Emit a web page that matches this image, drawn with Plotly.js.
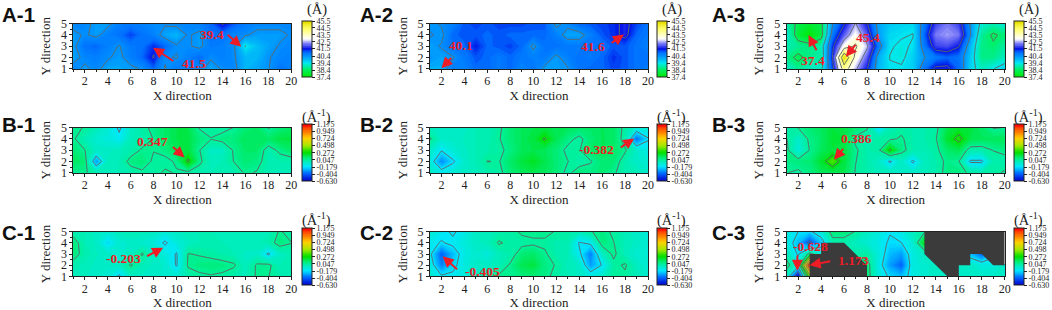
<!DOCTYPE html>
<html><head><meta charset="utf-8">
<script src="https://cdn.plot.ly/plotly-3.0.1.min.js"></script>
<style>html,body{margin:0;padding:0;background:#fff}#c{width:1052px;height:310px}</style>
</head><body><div id="c"></div>
<script>
const xValues=[1,2,3,4,5,6,7,8,9,10,11,12,13,14,15,16,17,18,19,20];
const yValues=[1,2,3,4,5];
const panelNames=["A-1","A-2","A-3","B-1","B-2","B-3","C-1","C-2","C-3"];
const ticksA=["37.4","38.4","39.4","40.4","41.5","42.5","43.5","44.5","45.5"];
const ticksB=["-0.630","-0.404","-0.179","0.047","0.272","0.498","0.724","0.949","1.175"];
// rows run from y=1 to y=5
const zA1=[
[40.7,40.3,40.6,40.2,40.2,40.3,40.5,41.0,40.4,40.8,40.7,40.6,40.2,40.5,40.6,40.0,40.2,40.4,40.9,40.7],
[40.2,40.6,40.7,40.5,40.3,40.7,41.0,41.5,40.5,40.4,40.7,41.0,40.5,40.7,40.5,40.0,40.0,40.4,40.6,40.7],
[40.3,40.9,41.0,40.7,40.4,40.8,40.9,41.3,41.0,40.5,40.5,40.3,40.8,40.7,40.5,39.4,39.9,40.2,40.5,40.6],
[40.3,40.5,40.3,40.7,40.9,41.2,40.9,40.7,40.2,40.0,40.5,40.3,40.9,40.9,40.6,40.5,40.3,40.3,40.3,40.5],
[40.6,40.6,40.3,40.3,40.7,40.8,40.7,40.5,40.5,40.6,40.6,40.7,41.0,41.5,41.1,40.8,40.6,40.6,40.6,40.6]];
const zA2=[
[40.1,40.1,40.8,40.7,41.0,41.0,40.8,41.0,40.6,40.9,40.3,40.3,40.4,40.9,41.0,41.0,41.2,41.1,40.9,40.8],
[40.4,40.2,40.4,40.8,41.1,41.0,40.8,41.0,40.8,40.7,40.8,40.3,40.7,40.9,40.8,41.0,41.3,41.1,40.9,40.9],
[40.2,40.5,40.9,41.0,41.4,41.0,41.1,41.2,41.0,40.3,40.9,40.9,40.8,40.8,40.9,40.9,41.1,41.1,40.9,40.7],
[40.5,40.3,41.0,41.1,41.1,41.0,41.1,41.0,41.0,41.0,41.0,40.7,40.2,40.2,40.7,41.1,41.3,41.6,41.0,40.8],
[40.3,40.5,40.7,41.1,41.2,41.1,41.2,41.2,41.2,41.1,41.1,40.3,40.6,41.0,41.1,41.2,41.3,41.6,41.2,40.9]];
const zA3=[
[39.2,38.8,39.1,39.2,41.2,44.0,42.6,41.5,40.0,39.5,39.5,39.7,40.9,41.6,41.6,41.0,39.7,39.1,39.4,39.7],
[38.7,38.2,38.7,38.9,41.5,45.4,43.2,42.0,40.1,39.4,39.3,39.7,40.4,40.8,41.0,40.9,39.8,38.7,38.7,39.1],
[39.0,38.8,38.7,39.0,41.3,43.0,43.6,42.6,40.8,39.5,39.3,39.5,40.8,41.8,41.9,41.5,40.0,38.7,38.5,38.9],
[39.3,38.0,37.5,38.1,40.8,42.0,43.0,42.0,40.3,39.6,39.5,39.4,41.0,42.2,42.4,42.2,40.5,38.8,38.3,38.6],
[39.0,38.2,37.9,38.2,40.4,41.4,42.5,41.5,40.2,39.8,39.7,39.6,40.8,41.8,42.2,41.8,40.4,39.2,39.0,39.3]];
const zB1=[
[0.05,0.06,0.0,-0.03,-0.02,0.0,0.03,0.02,0.06,0.04,0.02,0.0,-0.02,-0.02,-0.01,0.06,0.04,-0.02,-0.03,-0.02],
[0.14,0.1,-0.3,-0.04,-0.02,0.08,0.1,0.03,0.02,0.06,0.3,0.07,-0.03,-0.02,0.05,0.1,0.08,0.0,0.0,0.0],
[0.1,0.05,-0.05,-0.05,-0.03,0.0,0.06,0.05,0.08,0.14,0.18,0.05,-0.05,-0.05,0.06,0.12,0.12,0.0,0.07,0.12],
[0.06,-0.02,-0.08,-0.1,-0.15,-0.03,0.0,0.05,0.12,0.16,0.17,0.09,0.05,0.08,0.09,0.14,0.12,0.12,0.17,0.17],
[0.07,0.04,-0.02,-0.08,-0.2,-0.05,0.02,0.07,0.12,0.16,0.16,0.04,0.02,0.02,0.05,0.1,0.12,0.04,0.09,0.12]];
const zB2=[
[-0.05,-0.12,-0.08,-0.06,-0.03,0.0,0.02,0.1,0.14,0.16,0.14,0.1,0.02,0.1,0.08,0.1,0.06,0.0,-0.02,-0.06],
[-0.1,-0.33,-0.2,-0.06,-0.02,0.05,0.04,0.12,0.18,0.22,0.16,0.1,0.05,0.0,0.04,0.1,0.1,0.0,-0.06,-0.08],
[-0.05,-0.17,-0.08,-0.05,-0.02,0.0,0.02,0.08,0.14,0.16,0.14,0.1,0.02,0.04,0.12,0.14,0.12,0.06,-0.06,-0.12],
[0.06,-0.06,-0.06,-0.04,-0.02,-0.01,0.04,0.1,0.14,0.18,0.29,0.15,0.08,0.02,0.1,0.14,0.13,0.0,-0.38,-0.19],
[-0.03,-0.06,-0.06,-0.05,-0.02,-0.02,0.03,0.1,0.14,0.16,0.17,0.15,0.14,0.12,0.12,0.14,0.12,0.02,-0.08,-0.08]];
const zB3=[
[0.05,0.03,0.08,0.14,0.14,0.16,0.04,0.0,-0.03,-0.02,-0.05,-0.06,-0.03,0.0,0.08,0.08,0.03,0.0,0.02,0.06],
[0.07,0.09,0.1,0.2,0.39,0.18,0.05,0.0,-0.05,-0.2,-0.05,-0.2,-0.04,0.0,0.07,0.05,-0.2,-0.2,0.0,0.0],
[0.07,-0.1,0.05,0.14,0.18,0.18,0.06,0.0,0.02,0.29,0.08,0.0,-0.02,0.02,0.12,0.15,0.0,0.0,0.05,0.08],
[0.05,-0.06,0.07,0.12,0.2,0.18,0.03,-0.02,0.02,0.03,0.06,0.0,0.0,0.04,0.2,0.32,0.16,0.14,0.14,0.14],
[-0.02,0.05,0.1,0.14,0.18,0.16,0.1,0.06,-0.18,-0.02,0.02,0.0,0.0,0.02,0.16,0.2,0.18,0.12,0.04,0.05]];
const zC1=[
[-0.03,-0.04,-0.06,-0.08,-0.2,-0.05,-0.05,-0.06,-0.07,-0.08,0.0,0.03,0.04,0.03,0.0,-0.03,0.06,0.05,0.0,-0.02],
[0.0,-0.03,-0.05,-0.06,-0.05,0.06,-0.02,-0.05,-0.07,-0.19,0.06,0.08,0.09,0.08,0.06,-0.04,0.06,0.07,-0.02,-0.02],
[0.1,0.0,-0.04,-0.06,-0.08,-0.05,0.06,-0.05,-0.1,-0.19,0.05,0.04,0.02,0.0,-0.02,-0.05,-0.05,-0.2,-0.05,-0.01],
[0.1,-0.02,-0.05,-0.18,-0.08,-0.06,-0.07,-0.1,-0.2,-0.1,-0.05,-0.02,-0.02,-0.02,-0.03,-0.03,-0.03,0.0,0.09,0.05],
[0.0,-0.02,-0.05,-0.08,-0.03,-0.02,-0.03,-0.05,-0.08,-0.05,-0.03,-0.02,-0.02,-0.03,-0.03,-0.03,-0.04,-0.03,0.06,0.0]];
const zC2=[
[-0.08,-0.16,-0.15,-0.1,-0.06,0.0,0.06,0.05,0.09,0.1,0.08,0.01,-0.02,-0.05,-0.1,-0.07,0.04,0.03,-0.03,-0.07],
[-0.1,-0.35,-0.22,-0.1,-0.06,-0.05,-0.02,0.06,0.15,0.18,0.08,0.04,-0.03,-0.05,-0.3,-0.17,0.02,0.06,-0.04,-0.08],
[-0.15,-0.405,-0.25,-0.12,-0.07,-0.1,-0.03,0.0,0.1,0.12,0.06,0.0,-0.02,-0.15,-0.35,-0.05,0.07,-0.03,-0.08,-0.09],
[-0.14,-0.19,-0.15,-0.1,-0.05,-0.03,0.06,0.02,0.02,0.03,0.03,-0.01,0.0,-0.19,-0.15,0.09,0.05,-0.03,-0.05,-0.09],
[-0.08,-0.14,-0.2,-0.12,-0.05,-0.03,-0.01,0.02,0.06,0.07,0.07,0.04,0.01,-0.02,0.04,0.08,0.03,-0.02,-0.06,-0.1]];
const zC3=[
[-0.05,-0.628,0.4,null,null,null,null,0.1,-0.1,-0.2,-0.25,-0.12,-0.07,-0.05,-0.05,-0.05,-0.05,-0.06,-0.06,-0.05],
[0.1,-0.1,1.173,null,null,null,null,0.1,-0.12,-0.3,-0.4,-0.1,-0.08,-0.05,null,-0.05,-0.05,-0.1,-0.1,-0.05],
[-0.02,-0.2,0.1,-0.08,null,null,0.0,0.02,-0.1,-0.25,-0.3,-0.1,-0.05,null,null,null,-0.25,-0.4,null,null],
[-0.1,-0.25,-0.45,-0.25,0.0,0.0,-0.04,-0.08,-0.12,-0.2,-0.18,-0.08,0.25,null,null,null,null,null,null,null],
[-0.1,-0.18,-0.2,-0.1,0.1,0.1,0.04,-0.05,-0.1,-0.17,-0.12,-0.04,0.03,null,null,null,null,null,null,null]];
const panelData=[zA1,zA2,zA3,zB1,zB2,zB3,zC1,zC2,zC3];
// grey blanked areas in C-3
const maskX=[3,3,4,4,6,8,8,3,null,13,13,15,16,16,17,17,18,19,20,20,13];
const maskY=[1,3,3,4,4,2,1,1,null,5,3,1,1,2,2,3,3,2,2,5,5];
// callouts per panel: [text, textX, textY, tailX, tailY, headX, headY]
const callouts=[
[["41.5",11.5,1.47,9.85,1.6,7.95,2.87],["39.4",13.1,4.05,14.33,4.14,15.64,2.95]],
[["40.1",3.67,3.05,2.98,2.1,2.0,1.05],["41.6",15.2,3.0,16.7,3.2,17.9,4.05]],
[["37.4",3.27,1.77,3.67,2.5,2.9,4.0],["45.4",8.1,3.8,7.1,3.25,6.15,2.07]],
[["0.347",7.9,3.76,9.55,3.4,10.7,2.36]],
[["-0.382",15.5,3.04,17.5,3.16,18.8,4.05]],
[["0.386",7.04,4.08,6.03,3.25,5.13,2.16]],
[["-0.203",5.4,2.6,7.3,2.73,8.83,3.57]],
[["-0.405",5.56,1.42,3.5,1.5,2.1,2.8]],
[["-0.628",3.1,3.66,1.93,3,1.93,1.5],["1.173",6.8,2.46,4.93,2.37,3.0,2.0]]];

const W=1052,H=310;
const colA=[[0,"#00e800"],[0.125,"#00f060"],[0.25,"#00e8f0"],[0.375,"#0090ff"],[0.44,"#0070ff"],[0.5,"#0010e8"],[0.6,"#8080f8"],[0.68,"#ffffff"],[0.85,"#ffff70"],[1,"#e8e000"]];
const colB=[[0,"#0000c8"],[0.125,"#0060ff"],[0.25,"#00e8ff"],[0.375,"#00f098"],[0.5,"#00e000"],[0.625,"#a8e800"],[0.75,"#ffd000"],[0.875,"#ff7000"],[1,"#ff1000"]];
const colLeft=[73.3,430,786.7],plotW=218;
const rowTop=[[23.7,68.7],[127.7,172.7],[231.7,276.3]];
const cbX=[302,657,1014];
const cbY=[[21,77],[124.3,181.7],[228.3,285.7]];
const serif='"Liberation Serif","Times New Roman",serif';
const data=[],annotations=[],layout={width:W,height:H,margin:{l:0,r:0,t:0,b:0,pad:0},paper_bgcolor:"#fff",plot_bgcolor:"#fff",showlegend:false,font:{family:serif,color:"#222"}};

panelData.forEach((z,i)=>{
  const row=Math.floor(i/3),col=i%3,sfx=i===0?"":String(i+1);
  const isA=row===0,ticks=isA?ticksA:ticksB;
  const zmin=+ticks[0],zmax=+ticks[8],step=(zmax-zmin)/8;
  const tv=ticks.map(Number);
  layout["xaxis"+sfx]={domain:[colLeft[col]/W,(colLeft[col]+plotW)/W],range:[1,20],anchor:"y"+sfx,
    tick0:0,dtick:2,ticks:"outside",ticklen:3,tickwidth:1,tickcolor:"#222",showgrid:false,zeroline:false,ticklabelstandoff:-2,
    showline:true,mirror:true,linecolor:"#222",linewidth:1,tickfont:{size:12,family:serif,color:"#222"},
    minor:{dtick:1,ticks:"outside",ticklen:2,tickcolor:"#222",showgrid:false},
    title:{text:"X direction",font:{size:13,family:serif,color:"#222"},standoff:0}};
  layout["yaxis"+sfx]={domain:[1-rowTop[row][1]/H,1-rowTop[row][0]/H],range:[1,5],anchor:"x"+sfx,
    tick0:1,dtick:1,ticks:"outside",ticklen:3,tickwidth:1,tickcolor:"#222",showgrid:false,zeroline:false,
    showline:true,mirror:true,linecolor:"#222",linewidth:1,tickfont:{size:12,family:serif,color:"#222"},
    minor:{dtick:0.5,ticks:"outside",ticklen:2,tickcolor:"#222",showgrid:false},
    title:{text:"Y direction",font:{size:13,family:serif,color:"#222"},standoff:7}};
  data.push({type:"contour",x:xValues,y:yValues,z:z,xaxis:"x"+sfx,yaxis:"y"+sfx,zmin:zmin,zmax:zmax,autocontour:false,
    colorscale:isA?colA:colB,connectgaps:false,hoverinfo:"skip",
    contours:{coloring:"fill",start:zmin,end:zmax,size:(zmax-zmin)/80,showlines:false},line:{width:0,smoothing:0},
    colorbar:{x:cbX[col]/W,xanchor:"left",xpad:0,ypad:0,y:1-cbY[row][0]/H,yanchor:"top",lenmode:"pixels",len:cbY[row][1]-cbY[row][0],
      thicknessmode:"pixels",thickness:10,outlinecolor:"#222",outlinewidth:1,borderwidth:0,tickmode:"array",tickvals:tv,ticktext:ticks,
      ticks:"outside",ticklen:3,tickwidth:1,tickcolor:"#222",tickfont:{size:8,family:serif,color:"#222"}}});
  data.push({type:"contour",x:xValues,y:yValues,z:z,xaxis:"x"+sfx,yaxis:"y"+sfx,showscale:false,autocontour:false,connectgaps:false,hoverinfo:"skip",
    contours:{coloring:"none",start:zmin+step,end:zmax-step/2,size:step},line:{color:"#5c6a6a",width:1,smoothing:0}});
  if(i===8) data.push({type:"scatter",mode:"lines",x:maskX,y:maskY,xaxis:"x"+sfx,yaxis:"y"+sfx,fill:"toself",fillcolor:"#3b3b3b",line:{width:0,color:"#3b3b3b"},hoverinfo:"skip"});
  annotations.push({xref:"paper",yref:"paper",x:[18.5,376,728][col]/W,y:1-[14,125,232][row]/H,text:"<b>"+panelNames[i]+"</b>",showarrow:false,
    xanchor:"center",yanchor:"middle",font:{family:'"Liberation Sans",Arial,sans-serif',size:20.5,color:"#111"}});
  annotations.push({xref:"paper",yref:"paper",x:(cbX[col]+14.5)/W,y:1-[10,116,219][row]/H,text:isA?"(Å)":"(Å<sup>-1</sup>)",showarrow:false,
    xanchor:"center",yanchor:"middle",font:{family:serif,size:14.5,color:"#222"}});
  callouts[i].forEach(c=>{
    annotations.push({xref:"x"+sfx,yref:"y"+sfx,x:c[1],y:c[2],text:"<b>"+c[0]+"</b>",showarrow:false,xanchor:"center",yanchor:"middle",font:{family:serif,size:13.5,color:"#ee1c25"}});
    annotations.push({xref:"x"+sfx,yref:"y"+sfx,axref:"x"+sfx,ayref:"y"+sfx,x:c[5],y:c[6],ax:c[3],ay:c[4],text:"",showarrow:true,arrowcolor:"#ee1c25",arrowwidth:2,arrowhead:2,arrowsize:1.1});
  });
});
layout.annotations=annotations;
Plotly.newPlot("c",data,layout,{displayModeBar:false,staticPlot:true});
</script></body></html>
